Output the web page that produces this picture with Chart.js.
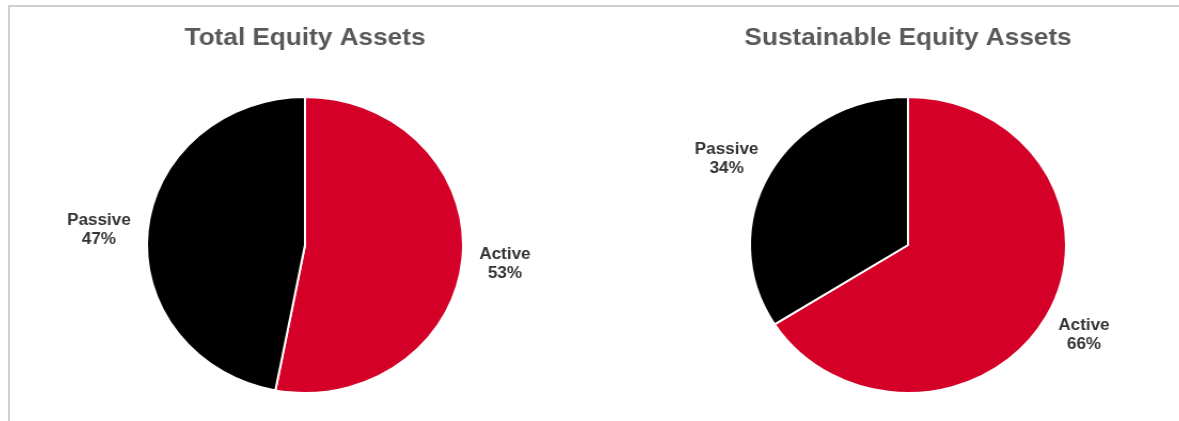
<!DOCTYPE html>
<html>
<head>
<meta charset="utf-8">
<script src="https://cdn.jsdelivr.net/npm/chart.js@4"></script>
<style>
  html, body { margin: 0; padding: 0; background: #fff; }
  body { width: 1179px; height: 421px; position: relative; overflow: hidden; }
  .frame {
    position: absolute; left: 8px; top: 5px; right: -10px; bottom: -10px;
    border-top: 2px solid #cfcfcf; border-left: 2px solid #cfcfcf;
  }
  .pie {
    position: absolute; top: 0; width: 500px; height: 421px;
    transform: scaleX(1.068); transform-origin: 50% 50%;
  }
  .pie canvas { width: 500px; height: 421px; }
  #leftPie { left: 55px; }
  #rightPie { left: 658px; }
</style>
</head>
<body>
<div class="frame"></div>
<div class="pie" id="leftPie"><canvas id="totalChart" width="500" height="421"></canvas></div>
<div class="pie" id="rightPie"><canvas id="sustainableChart" width="500" height="421"></canvas></div>

<script>
// slice names, in drawing order (clockwise from 12 o'clock)
const categories = ['Active', 'Passive'];
const totalValues = [53, 47];
const sustainableValues = [66, 34];
const chartTitles = ['Total Equity Assets', 'Sustainable Equity Assets'];

const sliceColors = ['#d50027', '#000000'];
const FONT = '"Liberation Sans", Arial, Helvetica, sans-serif';

// name + percent outside each slice: anchored a little past the rim on the
// slice's middle angle, text box pushed outward so it doesn't touch the pie
const sliceLabels = {
  id: 'sliceLabels',
  afterDatasetsDraw(chart) {
    const ctx = chart.ctx;
    const meta = chart.getDatasetMeta(0);
    const values = chart.data.datasets[0].data;
    const lineGap = 19;
    ctx.save();
    ctx.font = 'bold 16px ' + FONT;
    ctx.fillStyle = '#333333';
    ctx.textAlign = 'center';
    ctx.textBaseline = 'middle';
    meta.data.forEach((arc, i) => {
      const p = arc.getProps(['x', 'y', 'startAngle', 'endAngle', 'outerRadius'], true);
      const mid = (p.startAngle + p.endAngle) / 2;
      const dx = Math.cos(mid), dy = Math.sin(mid);
      const name = chart.data.labels[i];
      const pct = values[i] + '%';
      const halfW = Math.max(ctx.measureText(name).width, ctx.measureText(pct).width) / 2;
      const halfH = lineGap;
      const d = p.outerRadius + 16;
      const x = p.x + dx * d + dx * halfW;
      const y = p.y + dy * d + dy * halfH + 2;
      ctx.fillText(name, x, y - lineGap / 2);
      ctx.fillText(pct, x, y + lineGap / 2);
    });
    ctx.restore();
  }
};

function makePie(canvasId, title, values) {
  return new Chart(document.getElementById(canvasId), {
    type: 'pie',
    data: {
      labels: categories,
      datasets: [{
        data: values,
        backgroundColor: sliceColors,
        borderColor: '#ffffff',
        borderWidth: 2
      }]
    },
    options: {
      responsive: false,
      animation: false,
      events: [],
      radius: 148,
      layout: { padding: 0 },
      plugins: {
        legend: { display: false },
        tooltip: { enabled: false },
        title: {
          display: true,
          text: title,
          color: '#595959',
          font: { family: FONT, size: 24.5, weight: 'bold', lineHeight: 1.2 },
          padding: { top: 23.3, bottom: 16.3 }
        }
      }
    },
    plugins: [sliceLabels]
  });
}

makePie('totalChart', chartTitles[0], totalValues);
makePie('sustainableChart', chartTitles[1], sustainableValues);
</script>
</body>
</html>
